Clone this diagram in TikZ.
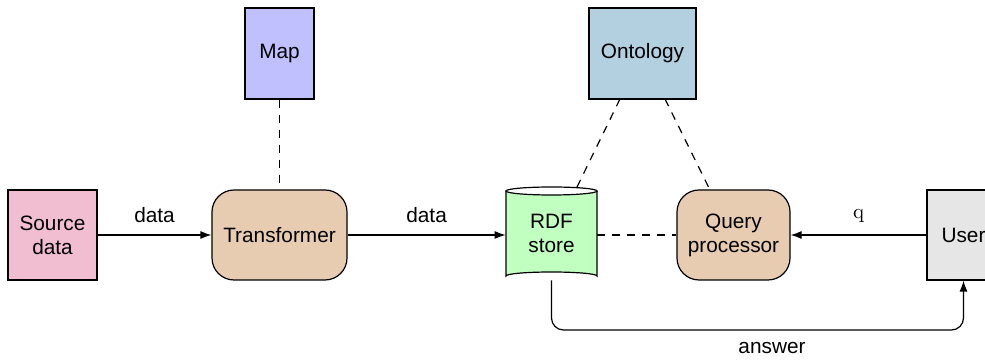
\documentclass[tikz,border=0pt]{standalone}
\usepackage{fontspec}
\setmainfont{Liberation Sans}
\usetikzlibrary{arrows.meta,positioning}
\definecolor{cSource}{RGB}{240,190,208}
\definecolor{cTrans}{RGB}{232,204,178}
\definecolor{cMap}{RGB}{192,192,255}
\definecolor{cOnto}{RGB}{178,208,224}
\definecolor{cRdf}{RGB}{192,255,192}
\definecolor{cUser}{RGB}{230,230,230}
\tikzset{
  every node/.style={font=\fontsize{10.4}{12}\selectfont},
  box/.style={draw, line width=0.6pt, align=center, inner sep=0pt},
  rbox/.style={box, rounded corners=11pt},
  conn/.style={line width=0.6pt, -{Latex[length=5.5pt,width=4pt]}},
  dashln/.style={line width=0.6pt, dash pattern=on 4pt off 3.5pt},
  lbl/.style={inner sep=0pt}
}
\begin{document}
\begin{tikzpicture}[x=0.5pt,y=-0.5pt]
\useasboundingbox (0,0) rectangle (985,362);
\node[box, fill=cSource, minimum width=44.5pt, minimum height=45pt] (src) at (52.5,235) {Source\\data};
\node[rbox, fill=cTrans, minimum width=67.5pt, minimum height=45pt] (trans) at (279.5,235) {Transformer};
\node[box, fill=cMap, minimum width=34.5pt, minimum height=45.5pt] (map) at (279.5,53.5) {Map};
\node[box, fill=cOnto, minimum width=53.5pt, minimum height=45.5pt] (onto) at (642.5,53.5) {Ontology};
\node[draw=none, minimum width=45.5pt, minimum height=45pt, align=center, inner sep=0pt] (rdf) at (551.5,235) {};
\fill[cRdf] (506,191) -- (506,276) arc[start angle=180,end angle=360,x radius=45.5,y radius=4] -- (597,191) arc[start angle=0,end angle=180,x radius=45.5,y radius=4] -- cycle;
\draw[line width=0.6pt] (506,191) -- (506,276) arc[start angle=180,end angle=360,x radius=45.5,y radius=4] -- (597,191);
\draw[line width=0.6pt] (551.5,191) ellipse[x radius=45.5,y radius=4];
\node[align=center, inner sep=0pt] at (551.5,233) {RDF\\store};
\node[rbox, fill=cTrans, minimum width=56.5pt, minimum height=45pt] (query) at (733.5,235) {Query\\processor};
\node[box, fill=cUser, minimum width=36.5pt, minimum height=45pt] (user) at (963.5,235) {User};
\coordinate (bend) at (551.5,330);
\coordinate (ontoL) at (620,99);
\coordinate (ontoR) at (665,99);
\coordinate (rdfTop) at (577,187);
\coordinate (qTop) at (710,190);
\draw[conn] (src) -- node[above=6pt, lbl] {data} (trans);
\draw[conn] (trans) -- node[above=6pt, lbl] {data} (rdf);
\draw[conn] (user) -- node[above=6pt, lbl] {\fontspec{Latin Modern Roman}q} (query);
\draw[dashln] (map) -- (trans);
\draw[dashln] (ontoL) -- (rdfTop);
\draw[dashln] (ontoR) -- (qTop);
\draw[dashln] (rdf) -- (query);
\draw[conn, rounded corners=6pt] (rdf.south) -- (bend) -| (user.south);
\node[lbl] (ans) at (772,348) {answer};
\end{tikzpicture}
\end{document}
